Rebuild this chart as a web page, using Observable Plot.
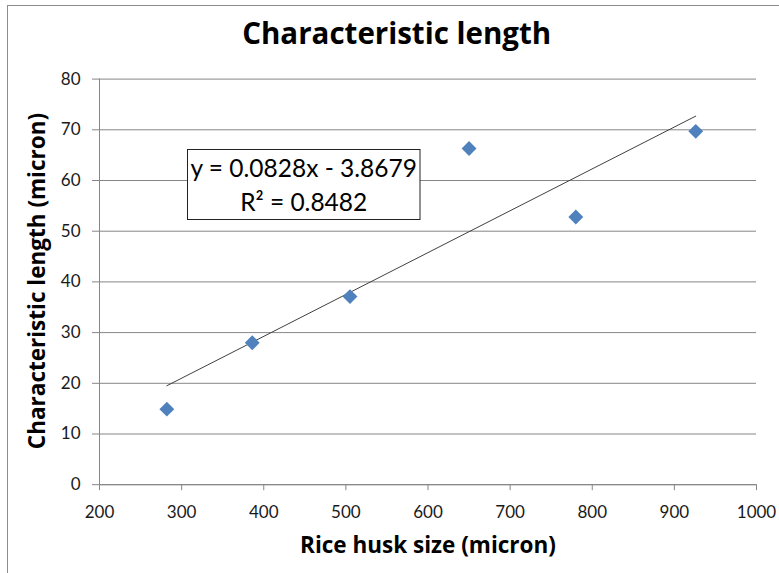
<!DOCTYPE html>
<html>
<head>
<meta charset="utf-8">
<script src="https://cdn.jsdelivr.net/npm/d3@7"></script>
<script src="https://cdn.jsdelivr.net/npm/@observablehq/plot@0.6"></script>
<style>
  body { margin: 0; background: #fff; }
  #wrap { position: relative; width: 779px; height: 573px; overflow: hidden; }
  #border { position: absolute; left: 7px; top: 5px; width: 900px; height: 700px;
            border-left: 1px solid #8c8c8c; border-top: 1px solid #8c8c8c; }
  #chart { position: absolute; left: 0; top: 0; }
</style>
</head>
<body>
<div id="wrap"><div id="border"></div><div id="chart"></div></div>
<script>
// ---- data ----
const riceHuskSize = [282, 386, 505, 650, 780, 926];     // micron (x)
const charLength   = [14.9, 28.0, 37.1, 66.3, 52.8, 69.7]; // micron (y)
const xTicks = [200, 300, 400, 500, 600, 700, 800, 900, 1000];
const yTicks = [0, 10, 20, 30, 40, 50, 60, 70, 80];
const titleText = "Characteristic length";
const xLabel = "Rice husk size (micron)";
const yLabel = "Characteristic length (micron)";
const eqLines = ["y = 0.0828x - 3.8679", "R² = 0.8482"];

const data = riceHuskSize.map((x, i) => ({x, y: charLength[i]}));

const gridColor = "#868686";
const font = "Lato, 'Open Sans', sans-serif";
const boldFont = "'Open Sans', Lato, sans-serif";

const chart = Plot.plot({
  width: 779,
  height: 573,
  marginTop: 78.6,
  marginBottom: 88.8,
  marginLeft: 99,
  marginRight: 23,
  style: {fontFamily: font, fontSize: "17px", background: "transparent"},
  x: {domain: [200, 1000]},
  y: {domain: [0, 80]},
  marks: [
    Plot.gridY(yTicks, {stroke: gridColor, strokeOpacity: 1, strokeWidth: 1}),
    Plot.ruleX([200], {y1: 0, y2: 80, stroke: gridColor, strokeWidth: 1}),
    Plot.ruleY([0], {stroke: gridColor, strokeWidth: 1}),
    Plot.axisY({ticks: yTicks, tickSize: 7, tickPadding: 12, stroke: gridColor, fill: "#1a1a1a",
                fontSize: 17, tickFormat: d => String(d), label: null}),
    Plot.axisX({ticks: xTicks, tickSize: 6, tickPadding: 15, stroke: gridColor, fill: "#1a1a1a",
                fontSize: 17, tickFormat: d => String(d), label: null}),
    Plot.linearRegressionY(data, {x: "x", y: "y", ci: 0, stroke: "#404040", strokeWidth: 1}),
    Plot.dot(data, {x: "x", y: "y", symbol: "diamond2", r: 6.7, fill: "#4f81bd", stroke: "none"})
  ]
});

const svg = d3.select(chart);
// title
svg.append("text").attr("x", 396.7).attr("y", 44).attr("text-anchor", "middle")
  .attr("font-family", boldFont).attr("font-weight", 700).attr("font-size", 29.5).attr("fill", "#000")
  .text(titleText);
// x axis label
svg.append("text").attr("x", 428).attr("y", 553).attr("text-anchor", "middle")
  .attr("font-family", boldFont).attr("font-weight", 700).attr("font-size", 22.5).attr("fill", "#000")
  .text(xLabel);
// y axis label
svg.append("text").attr("transform", "translate(45,281) rotate(-90)").attr("text-anchor", "middle")
  .attr("font-family", boldFont).attr("font-weight", 700).attr("font-size", 22.5).attr("fill", "#000")
  .text(yLabel);
// equation box
const g = svg.append("g");
g.append("rect").attr("x", 187.5).attr("y", 149.5).attr("width", 232.5).attr("height", 70)
  .attr("fill", "#fff").attr("stroke", "#222").attr("stroke-width", 1);
g.append("text").attr("x", 303.7).attr("y", 177).attr("text-anchor", "middle")
  .attr("font-family", font).attr("font-size", 24.5).attr("fill", "#000").text(eqLines[0]);
g.append("text").attr("x", 303.7).attr("y", 211).attr("text-anchor", "middle")
  .attr("font-family", font).attr("font-size", 24.5).attr("fill", "#000").text(eqLines[1]);

document.getElementById("chart").appendChild(chart);
</script>
</body>
</html>
